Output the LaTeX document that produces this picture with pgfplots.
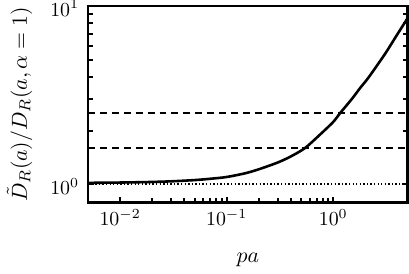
\documentclass[border=0pt]{standalone}
\usepackage{pgfplots}
\pgfplotsset{compat=1.18}
\begin{document}
\begin{tikzpicture}
\begin{axis}[
  scale only axis,
  width=161pt, height=99pt,
  xmode=log, ymode=log,
  xmin=0.005, xmax=5,
  ymin=0.79, ymax=10,
  xtick={0.01,0.1,1},
  ytick={1,10},
  xtick pos=bottom,
  ytick pos=both,
  tick align=inside,
  major tick length=3pt,
  minor tick length=2.5pt,
  every tick/.style={line width=1pt, black},
  axis line style={line width=1.3pt},
  yticklabel style={xshift=-1pt, yshift=-1pt, inner ysep=0pt},
  xlabel={$pa$},
  xlabel style={yshift=-7pt, font=\fontsize{11}{13}\selectfont},
  ylabel={$\tilde{D}_R(a)/D_R(a,\alpha=1)$},
  ylabel style={at={(axis description cs:-0.214,0.5)}, anchor=center, inner sep=3.5pt, font=\fontsize{11}{13}\selectfont},
  clip=true,
]
\addplot[line width=1.3pt, smooth] coordinates {
(0.005,1.02) (0.0075,1.022) (0.01,1.024) (0.015,1.028) (0.02,1.032)
(0.03,1.04) (0.05,1.057) (0.07,1.075) (0.1,1.10) (0.15,1.155)
(0.2,1.215) (0.3,1.325) (0.4,1.435) (0.544,1.60) (0.75,1.90)
(1.0,2.24) (1.16,2.51) (1.5,3.02) (1.78,3.46) (2.12,3.94)
(2.73,4.88) (3.16,5.55) (4.0,6.95) (4.85,8.33) (5.0,8.6)
};
\addplot[line width=0.9pt, dash pattern=on 3.5pt off 2.5pt] coordinates {(0.005,2.51) (5,2.51)};
\addplot[line width=0.9pt, dash pattern=on 3.5pt off 2.5pt] coordinates {(0.005,1.6) (5,1.6)};
\addplot[line width=0.9pt, dash pattern=on 0.7pt off 1.1pt] coordinates {(0.005,1) (5,1)};
\end{axis}
\end{tikzpicture}
\end{document}
